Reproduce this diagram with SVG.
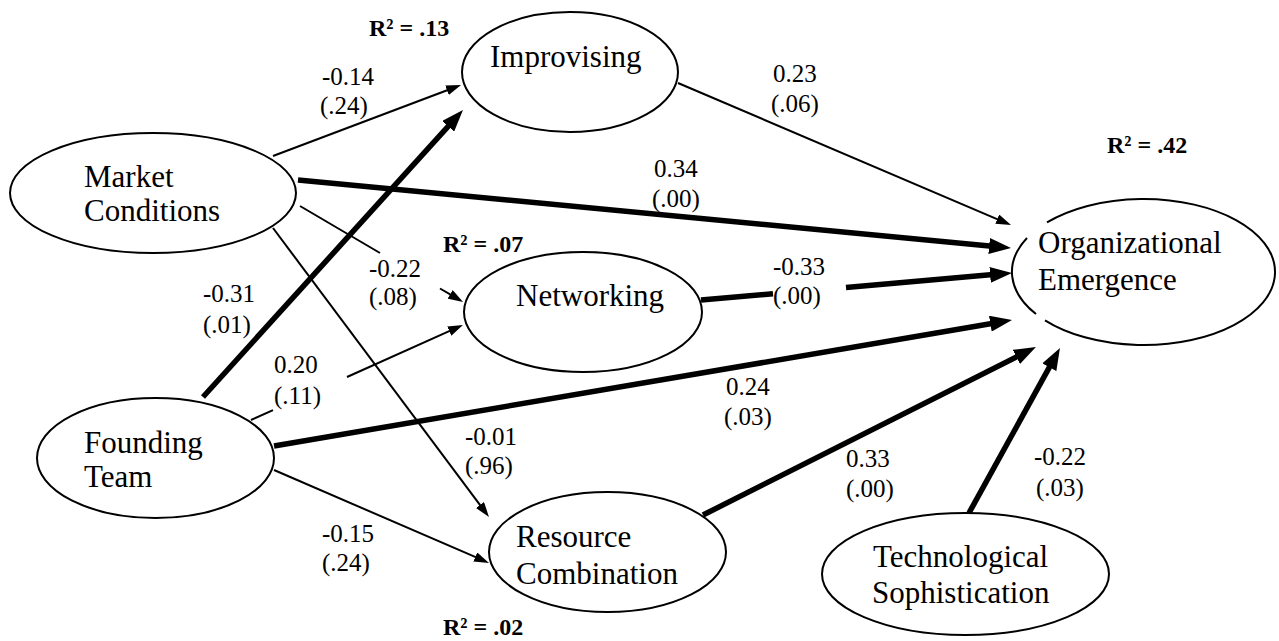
<svg xmlns="http://www.w3.org/2000/svg" width="1279" height="641" viewBox="0 0 1279 641">
<style>
.node ellipse,.node path{fill:none;stroke:#000;stroke-width:2}
.lbl{font-family:"Liberation Serif","Times New Roman",serif;font-size:31px;fill:#000}
.num{font-family:"Liberation Serif","Times New Roman",serif;font-size:25px;fill:#000}
.r2{font-family:"Liberation Serif","Times New Roman",serif;font-size:24px;font-weight:bold;fill:#000}
.thin{stroke:#000;stroke-width:2;fill:none}
.thick{stroke:#000;stroke-width:5.5;fill:none}
</style>
<defs>
<marker id="aThin" markerUnits="userSpaceOnUse" markerWidth="15" markerHeight="10" refX="3" refY="5" orient="auto">
<path d="M0,0 L15,5 L0,10 z" fill="#000"/>
</marker>
<marker id="aThick" markerUnits="userSpaceOnUse" markerWidth="22" markerHeight="16" refX="3" refY="8" orient="auto">
<path d="M0,0 L22,8 L0,16 z" fill="#000"/>
</marker>
</defs>
<rect width="1279" height="641" fill="#fff"/>
<g id="nodes">
<g id="market" class="node"><ellipse cx="153" cy="193" rx="143" ry="60"/><text class="lbl" x="84" y="187">Market</text><text class="lbl" x="84" y="221">Conditions</text></g>
<g id="improvising" class="node"><ellipse cx="570" cy="72" rx="108" ry="60"/><text class="lbl" x="490" y="67">Improvising</text></g>
<g id="networking" class="node"><ellipse cx="583" cy="312" rx="119" ry="60"/><text class="lbl" x="516" y="306">Networking</text></g>
<g id="orgemergence" class="node"><path d="M1047,222.4 A131.5,73 0 1,1 1045,320.3 M1036,314 A131.5,73 0 0,1 1027,238"/><text class="lbl" x="1038" y="253">Organizational</text><text class="lbl" x="1038" y="290">Emergence</text></g>
<g id="founding" class="node"><ellipse cx="155.5" cy="458" rx="118.5" ry="60"/><text class="lbl" x="84" y="453">Founding</text><text class="lbl" x="84" y="487">Team</text></g>
<g id="resource" class="node"><ellipse cx="607.5" cy="552" rx="118.5" ry="60"/><text class="lbl" x="516" y="547">Resource</text><text class="lbl" x="516" y="584">Combination</text></g>
<g id="tech" class="node"><ellipse cx="965.5" cy="574" rx="143.5" ry="61"/><text class="lbl" x="873" y="567">Technological</text><text class="lbl" x="872" y="603">Sophistication</text></g>
</g>
<g id="connectors">
<line class="thin" x1="273" y1="156" x2="449.8" y2="89.2" marker-end="url(#aThin)"/>
<line class="thick" x1="203" y1="397" x2="450.2" y2="124.1" marker-end="url(#aThick)"/>
<line class="thick" x1="298" y1="180" x2="992.1" y2="246.2" marker-end="url(#aThick)"/>
<line class="thin" x1="300" y1="206" x2="380" y2="253"/>
<line class="thin" x1="440" y1="288.5" x2="452.7" y2="295.9" marker-end="url(#aThin)"/>
<line class="thin" x1="273" y1="228" x2="481.8" y2="507.4" marker-end="url(#aThin)"/>
<line class="thin" x1="678" y1="83" x2="1000" y2="220.3" marker-end="url(#aThin)"/>
<line class="thick" x1="701" y1="300" x2="773" y2="293.7"/>
<line class="thick" x1="846" y1="287.4" x2="993.1" y2="274.6" marker-end="url(#aThick)"/>
<line class="thin" x1="251" y1="420" x2="273" y2="410.1"/>
<line class="thin" x1="347" y1="377" x2="452" y2="329.9" marker-end="url(#aThin)"/>
<line class="thick" x1="274" y1="446" x2="993.3" y2="323.2" marker-end="url(#aThick)"/>
<line class="thin" x1="274" y1="470" x2="478" y2="558.2" marker-end="url(#aThin)"/>
<line class="thick" x1="703" y1="515" x2="1019" y2="355.6" marker-end="url(#aThick)"/>
<line class="thick" x1="969" y1="513" x2="1050.8" y2="364.6" marker-end="url(#aThick)"/>
</g>
<g id="labels">
<text class="r2" x="369" y="36">R² = .13</text>
<text class="num" x="322" y="85">-0.14</text><text class="num" x="320" y="114">(.24)</text>
<text class="num" x="773" y="82">0.23</text><text class="num" x="771" y="112">(.06)</text>
<text class="r2" x="1107" y="153">R² = .42</text>
<text class="num" x="654" y="177">0.34</text><text class="num" x="652" y="207">(.00)</text>
<text class="r2" x="443" y="252">R² = .07</text>
<text class="num" x="369" y="277">-0.22</text><text class="num" x="369" y="305">(.08)</text>
<text class="num" x="203" y="302">-0.31</text><text class="num" x="203" y="333">(.01)</text>
<text class="num" x="773" y="275">-0.33</text><text class="num" x="773" y="304">(.00)</text>
<text class="num" x="274" y="373">0.20</text><text class="num" x="274" y="404">(.11)</text>
<text class="num" x="726" y="395">0.24</text><text class="num" x="724" y="425">(.03)</text>
<text class="num" x="465" y="445">-0.01</text><text class="num" x="465" y="474">(.96)</text>
<text class="num" x="846" y="467">0.33</text><text class="num" x="846" y="497">(.00)</text>
<text class="num" x="1034" y="465">-0.22</text><text class="num" x="1036" y="496">(.03)</text>
<text class="num" x="322" y="542">-0.15</text><text class="num" x="322" y="571">(.24)</text>
<text class="r2" x="443" y="635">R² = .02</text>
</g>
</svg>
